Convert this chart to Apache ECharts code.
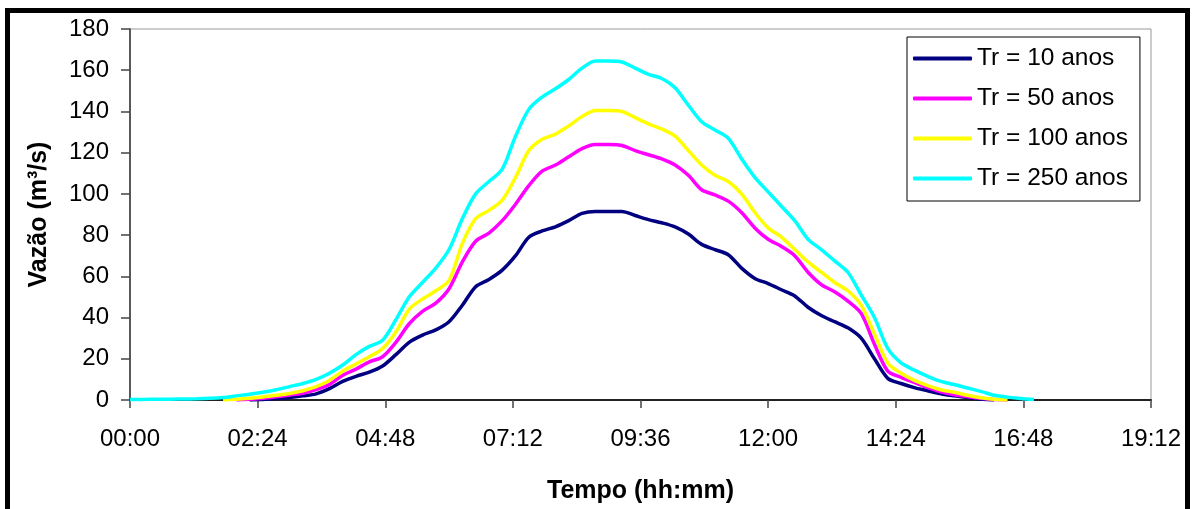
<!DOCTYPE html>
<html><head><meta charset="utf-8">
<script src="https://cdn.jsdelivr.net/npm/echarts@6/dist/echarts.min.js"></script>
<style>html,body{margin:0;padding:0;background:#fff}#c{width:1195px;height:509px}</style>
</head><body><div id="c"></div>
<script>
// time in minutes since 00:00
const times = [0,15,30,45,60,75,90,105,120,135,150,165,180,195,210,225,240,255,270,285,300,315,330,345,360,375,390,405,420,435,450,465,480,495,510,525,540,555,570,585,600,615,630,645,660,675,690,705,720,735,750,765,780,795,810,825,840,855,870,885,900,915,930,945,960,975,990,1005,1020];

const tr10 = [null,null,null,null,null,null,null,null,null,
  0,0.3,0.7,1.2,2,3,5.5,9,11.5,13.5,
  16.5,22,28,31.5,34,38,46,55,58.5,63,
  70,79,82,84,87,90.5,91.5,91.5,91.5,89.5,
  87.5,86,84,80.5,75.5,73,70.5,64,59,56.5,
  53.5,50.5,45,41,38,35,30,20,10.5,8,
  6,4.5,3,2,1.2,0.5,0,null,null,null];

const tr50 = [null,null,null,null,null,null,null,null,
  0,0.4,0.9,1.6,2.4,3.3,5,7.5,12,15,
  18.5,21,28,37,43,47,54,67,77,81,
  87,95,104,111,114,118,122,124,124,123.5,
  121,119,117,114,109,102,99.5,96.5,91,83.5,
  78,74.5,70,62,56,52.5,48,42,27,14,
  11,8.5,6,4,2.5,1.6,0.8,0.2,0,null,null];

const tr100 = [null,null,null,null,null,null,null,
  0,0.4,0.9,1.5,2.3,3.2,4.5,6.5,9.5,14,
  17.5,21,25,33,44,49,53,58,76,88,
  92,97,108,121,126.5,129,133,137.5,140.5,140.5,
  140,137,134,131.5,128,121,114,109,106,100,
  91,83.5,79,73,67,62,57,53,46,32,
  18,13,9.5,7,5,3.8,2.3,1.1,0.4,0,null,null];

const tr250 = [0.3,0.3,0.4,0.4,0.5,0.6,0.8,1.2,2,2.8,
  3.8,5,6.5,8,10,13,17,22,26,29,
  39,50,57,64,73,88,100,106,112,128,
  141,147,151,155.5,161,164.5,164.5,164,161,158,
  156,151.5,143,135,131,127,117,108,101,94,
  87,78,73,67.5,62,51,40,25,18,14.5,
  11.5,9,7.5,5.8,4.2,2.3,1.4,0.7,0.2];

const seriesNames = ['Tr = 10 anos','Tr = 50 anos','Tr = 100 anos','Tr = 250 anos'];
const seriesColors = ['#000080','#ff00ff','#ffff00','#00ffff'];
const seriesData = [tr10, tr50, tr100, tr250];

const xName = 'Tempo (hh:mm)';
const yName = 'Vazão (m³/s)';

const F = '"Liberation Sans", Arial, sans-serif';

function pairs(arr){ return times.map((t,i)=>[t, arr[i]]); }
function hhmm(v){ const h=Math.floor(v/60), m=Math.round(v%60); return String(h).padStart(2,'0')+':'+String(m).padStart(2,'0'); }

const chart = echarts.init(document.getElementById('c'), null, {renderer:'canvas'});
chart.setOption({
  animation:false,
  backgroundColor:'#fff',
  grid:{left:130, top:29, width:1021, height:371, show:true, borderColor:'#999', borderWidth:1, backgroundColor:'#fff'},
  graphic:[{type:'rect', silent:true, z:-10, shape:{x:7.5,y:10.5,width:1180,height:520}, style:{fill:'none', stroke:'#000', lineWidth:5}}],
  legend:{
    orient:'vertical', left:907, top:37,
    backgroundColor:'#fff', borderColor:'#000', borderWidth:1,
    padding:[9,12,10,6], itemGap:15, itemWidth:59, itemHeight:4, icon:'roundRect',
    textStyle:{fontSize:24.5, color:'#000', fontFamily:F, lineHeight:24},
    data:seriesNames
  },
  xAxis:{
    type:'value', min:0, max:1152, interval:144,
    name:xName, nameLocation:'middle', nameGap:79,
    nameTextStyle:{fontSize:25, fontWeight:'bold', color:'#000', fontFamily:F},
    axisLine:{show:true, onZero:false, lineStyle:{color:'#222', width:2}},
    axisTick:{show:true, length:8, lineStyle:{color:'#444', width:1.5}},
    axisLabel:{fontSize:24, color:'#000', fontFamily:F, margin:27, formatter:hhmm},
    splitLine:{show:false}
  },
  yAxis:{
    type:'value', min:0, max:180, interval:20,
    name:yName, nameLocation:'middle', nameGap:78, nameRotate:90,
    nameTextStyle:{fontSize:25, fontWeight:'bold', color:'#000', fontFamily:F},
    axisLine:{show:true, lineStyle:{color:'#333', width:1.5}},
    axisTick:{show:true, length:9, lineStyle:{color:'#444', width:1.5}},
    axisLabel:{fontSize:24, color:'#000', fontFamily:F, margin:21},
    splitLine:{show:false}
  },
  series: seriesData.map((d,i)=>({
    name:seriesNames[i], type:'line', data:pairs(d),
    showSymbol:false, symbol:'none', smooth:0.3,
    lineStyle:{color:seriesColors[i], width:3.5},
    itemStyle:{color:seriesColors[i]},
    connectNulls:false
  }))
});
</script></body></html>
